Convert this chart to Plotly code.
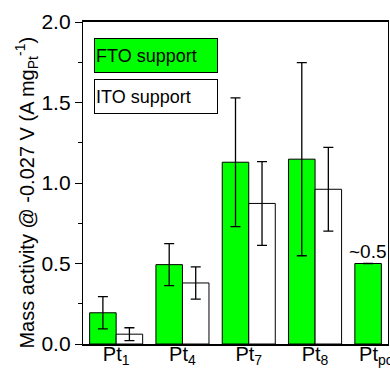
import plotly.graph_objects as go

# Catalyst samples on the x axis
samples = ["Pt<sub>1</sub>", "Pt<sub>4</sub>", "Pt<sub>7</sub>", "Pt<sub>8</sub>", "Pt<sub>poly</sub>"]

# Mass activity (A mg_Pt^-1) at -0.027 V and standard deviations
fto_activity = [0.194, 0.493, 1.129, 1.148, 0.5]
fto_error = [0.10, 0.13, 0.40, 0.60, None]
ito_activity = [0.061, 0.379, 0.873, 0.961, None]
ito_error = [0.04, 0.10, 0.26, 0.26, None]

poly_note = "~0.5"
series_names = ["FTO support", "ITO support"]
FONT = "Liberation Sans, Arial, sans-serif"

fig = go.Figure()
fig.add_trace(go.Bar(
    x=samples, y=fto_activity, name=series_names[0],
    marker=dict(color="#00FF00", line=dict(color="black", width=1)),
    error_y=dict(type="data", array=fto_error, color="black", thickness=1.3, width=5),
    showlegend=False,
))
fig.add_trace(go.Bar(
    x=samples, y=ito_activity, name=series_names[1],
    marker=dict(color="white", line=dict(color="black", width=1)),
    error_y=dict(type="data", array=ito_error, color="black", thickness=1.3, width=5),
    showlegend=False,
))

# Value note above the polycrystalline Pt bar (FTO slot sits at offset -0.2)
fig.add_annotation(
    x=len(samples) - 1 - 0.2, y=fto_activity[-1], xref="x", yref="y",
    text=poly_note, showarrow=False, yanchor="bottom",
    font=dict(family=FONT, size=19, color="black"),
)

# Boxed legend entries with text inside the colour patch
legend_fills = ["#00FF00", "white"]
for i, (name, fill) in enumerate(zip(series_names, legend_fills)):
    fig.add_annotation(
        x=0.037, y=0.951 - i * 0.129, xref="paper", yref="paper",
        xanchor="left", yanchor="top", text=name, showarrow=False,
        width=120, height=31, align="left", valign="middle",
        bgcolor=fill, bordercolor="black", borderwidth=1, borderpad=1,
        font=dict(family=FONT, size=18, color="black"),
    )

# Rotated y-axis title
fig.add_annotation(
    x=-0.184, y=0.47, xref="paper", yref="paper", textangle=-90,
    text="Mass activity @ -0.027 V (A mg<sub>Pt</sub><sup>-1</sup>)",
    showarrow=False, xanchor="center", yanchor="middle",
    font=dict(family=FONT, size=20, color="black"),
)

fig.update_layout(
    width=390, height=369,
    margin=dict(l=83, r=2, t=22, b=25),
    paper_bgcolor="white", plot_bgcolor="white",
    barmode="group", bargap=0.2, bargroupgap=0,
    font=dict(family=FONT, size=20, color="black"),
    xaxis=dict(
        type="category", range=[-0.5, 4.1], automargin=False,
        showline=True, linecolor="black", linewidth=2, mirror=True,
        ticks="", ticklen=0, ticklabelstandoff=-9,
        showgrid=False, tickfont=dict(size=20),
    ),
    yaxis=dict(
        range=[0, 2], tickvals=[0, 0.5, 1.0, 1.5, 2.0], tickformat=".1f",
        automargin=False,
        showline=True, linecolor="black", linewidth=1.3, mirror=True,
        ticks="outside", ticklen=7, tickwidth=1.2, tickcolor="black",
        minor=dict(dtick=0.25, ticks="outside", ticklen=4, tickcolor="black", tickwidth=1),
        showgrid=False, zeroline=False, tickfont=dict(size=21),
    ),
)

fig.write_html("out.html")
